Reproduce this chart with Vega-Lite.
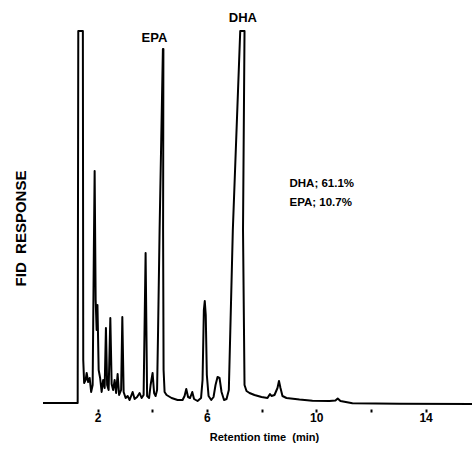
{
 "$schema": "https://vega.github.io/schema/vega-lite/v6.json",
 "width": 429, "height": 375,
 "autosize": {"type": "none"},
 "padding": {"left": 43, "top": 29, "right": 0, "bottom": 53},
 "config": {"view": {"stroke": null}, "font": "Liberation Sans", "axis": {"titleColor": "#000000", "labelColor": "#000000"}},
 "encoding": {
  "x": {"field": "t", "type": "quantitative",
   "scale": {"domain": [0, 15.7], "nice": false, "zero": false},
   "axis": {"values": [2, 4, 6, 8, 10, 12, 14], "labelExpr": "datum.value % 4 == 2 ? datum.label : ''",
    "domain": false, "grid": false, "offset": 5, "tickSize": 3, "tickWidth": 2, "tickColor": "black",
    "labelFontSize": 12, "labelFontWeight": "bold", "labelBaseline": "alphabetic", "labelPadding": 9,
    "title": "Retention time\u00a0\u00a0(min)", "titleFontSize": 11, "titleFontWeight": "bold",
    "titleX": 221, "titleY": 31, "titleBaseline": "alphabetic", "titleAlign": "center"}},
  "y": {"field": "r", "type": "quantitative",
   "scale": {"domain": [0, 375], "nice": false},
   "axis": {"domain": false, "ticks": false, "labels": false, "grid": false,
    "title": "FID\u00a0\u00a0RESPONSE", "titleFontSize": 15, "titleFontWeight": "bold",
    "titleX": -23, "titleY": 199, "titleAngle": -90, "titleBaseline": "middle", "titleAlign": "center"}}
 },
 "layer": [
  {
   "data": {"values": [
    {"i":0,"t":0,"r":1},{"i":1,"t":1.269,"r":1},{"i":2,"t":1.291,"r":373},{"i":3,"t":1.459,"r":373},
    {"i":4,"t":1.473,"r":44},{"i":5,"t":1.506,"r":21},{"i":6,"t":1.561,"r":24},{"i":7,"t":1.598,"r":31},
    {"i":8,"t":1.653,"r":22},{"i":9,"t":1.708,"r":26},{"i":10,"t":1.762,"r":12},{"i":11,"t":1.817,"r":19},
    {"i":12,"t":1.861,"r":154},{"i":13,"t":1.890,"r":233},{"i":14,"t":1.927,"r":104},{"i":15,"t":1.963,"r":74},
    {"i":16,"t":1.993,"r":99},{"i":17,"t":2.037,"r":34},{"i":18,"t":2.091,"r":26},{"i":19,"t":2.146,"r":12},
    {"i":20,"t":2.201,"r":24},{"i":21,"t":2.256,"r":16},{"i":22,"t":2.303,"r":76},{"i":23,"t":2.347,"r":19},
    {"i":24,"t":2.402,"r":14},{"i":25,"t":2.464,"r":86},{"i":26,"t":2.512,"r":20},{"i":27,"t":2.567,"r":14},
    {"i":28,"t":2.622,"r":24},{"i":29,"t":2.676,"r":11},{"i":30,"t":2.731,"r":30},{"i":31,"t":2.786,"r":9},
    {"i":32,"t":2.859,"r":14},{"i":33,"t":2.903,"r":87},{"i":34,"t":2.951,"r":12},{"i":35,"t":3.024,"r":6},
    {"i":36,"t":3.097,"r":8},{"i":37,"t":3.170,"r":4},{"i":38,"t":3.280,"r":12},{"i":39,"t":3.353,"r":5},
    {"i":40,"t":3.444,"r":7},{"i":41,"t":3.536,"r":11},{"i":42,"t":3.609,"r":6},{"i":43,"t":3.682,"r":9},
    {"i":44,"t":3.755,"r":151},{"i":45,"t":3.810,"r":8},{"i":46,"t":3.883,"r":6},{"i":47,"t":3.938,"r":19},
    {"i":48,"t":4.011,"r":31},{"i":49,"t":4.066,"r":11},{"i":50,"t":4.121,"r":8},{"i":51,"t":4.175,"r":14},
    {"i":52,"t":4.212,"r":74},{"i":53,"t":4.267,"r":174},{"i":54,"t":4.388,"r":355},{"i":55,"t":4.406,"r":355},
    {"i":56,"t":4.395,"r":174},{"i":57,"t":4.413,"r":34},{"i":58,"t":4.450,"r":12},{"i":59,"t":4.523,"r":9},
    {"i":60,"t":4.706,"r":6},{"i":61,"t":4.925,"r":4},{"i":62,"t":5.108,"r":4},{"i":63,"t":5.181,"r":8},
    {"i":64,"t":5.243,"r":15},{"i":65,"t":5.309,"r":7},{"i":66,"t":5.382,"r":6},{"i":67,"t":5.463,"r":12},
    {"i":68,"t":5.528,"r":5},{"i":69,"t":5.656,"r":3},{"i":70,"t":5.784,"r":6},{"i":71,"t":5.839,"r":24},
    {"i":72,"t":5.887,"r":94},{"i":73,"t":5.920,"r":103},{"i":74,"t":5.956,"r":89},{"i":75,"t":5.996,"r":29},
    {"i":76,"t":6.059,"r":8},{"i":77,"t":6.157,"r":4},{"i":78,"t":6.241,"r":7},{"i":79,"t":6.314,"r":19},
    {"i":80,"t":6.388,"r":27},{"i":81,"t":6.461,"r":26},{"i":82,"t":6.534,"r":12},{"i":83,"t":6.625,"r":4},
    {"i":84,"t":6.717,"r":5},{"i":85,"t":6.801,"r":14},{"i":86,"t":6.947,"r":174},{"i":87,"t":7.218,"r":373},
    {"i":88,"t":7.375,"r":373},{"i":89,"t":7.320,"r":174},{"i":90,"t":7.375,"r":19},{"i":91,"t":7.448,"r":13},
    {"i":92,"t":7.558,"r":11},{"i":93,"t":7.740,"r":9},{"i":94,"t":7.996,"r":7},{"i":95,"t":8.216,"r":6},
    {"i":96,"t":8.307,"r":10},{"i":97,"t":8.362,"r":8},{"i":98,"t":8.472,"r":9},{"i":99,"t":8.581,"r":16},
    {"i":100,"t":8.636,"r":23},{"i":101,"t":8.691,"r":16},{"i":102,"t":8.764,"r":8},{"i":103,"t":8.910,"r":6},
    {"i":104,"t":9.386,"r":4.5},{"i":105,"t":9.861,"r":3.3},{"i":106,"t":10.483,"r":3},{"i":107,"t":10.702,"r":3.5},
    {"i":108,"t":10.786,"r":5.5},{"i":109,"t":10.885,"r":3},{"i":110,"t":11.324,"r":0.7},{"i":111,"t":13.042,"r":0.3},
    {"i":112,"t":15.7,"r":0}
   ]},
   "mark": {"type": "line", "color": "black", "strokeWidth": 2, "strokeJoin": "round"},
   "encoding": {"order": {"field": "i", "type": "quantitative"}}
  },
  {
   "data": {"values": [
    {"t": 4.08, "r": 362, "label": "EPA"},
    {"t": 7.313, "r": 382, "label": "DHA"}
   ]},
   "mark": {"type": "text", "color": "black", "fontSize": 13, "fontWeight": "bold", "align": "center", "baseline": "alphabetic"},
   "encoding": {"text": {"field": "label"}}
  },
  {
   "data": {"values": [
    {"t": 9.02, "r": 217, "label": "DHA; 61.1%"},
    {"t": 9.02, "r": 198, "label": "EPA; 10.7%"}
   ]},
   "mark": {"type": "text", "color": "black", "fontSize": 11.5, "fontWeight": "bold", "align": "left", "baseline": "alphabetic"},
   "encoding": {"text": {"field": "label"}}
  }
 ]
}
